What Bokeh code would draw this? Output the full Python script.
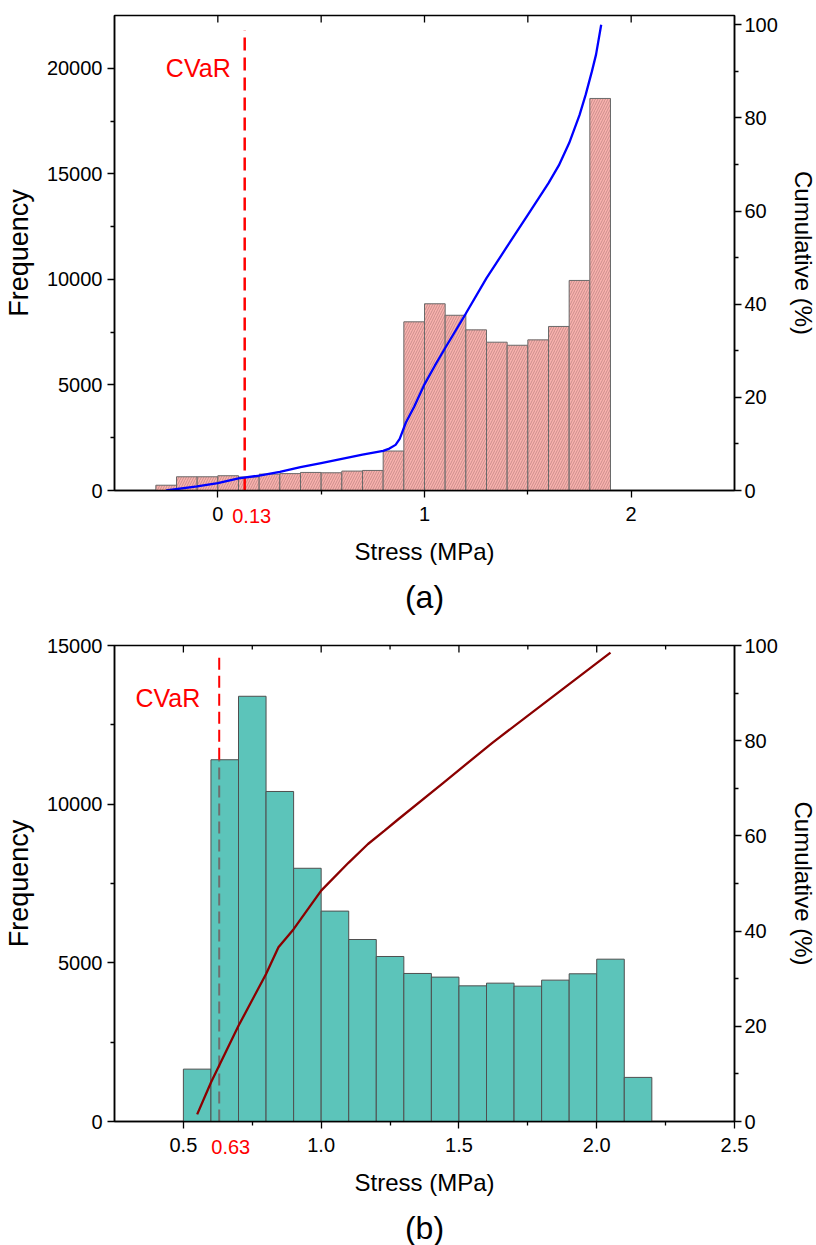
import math
from bokeh.plotting import figure
from bokeh.models import (Range1d, LinearAxis, FixedTicker, Label, PrintfTickFormatter,
                          CustomJSTickFormatter)
from bokeh.layouts import column
from bokeh.embed import file_html
from bokeh.resources import INLINE

FONT = "Liberation Sans"

# ---------------- data: panel (a) ----------------
A_BIN_CENTERS = [-0.25, -0.15, -0.05, 0.05, 0.15, 0.25, 0.35, 0.45, 0.55, 0.65, 0.75,
                 0.85, 0.95, 1.05, 1.15, 1.25, 1.35, 1.45, 1.55, 1.65, 1.75, 1.85]
A_BIN_WIDTH = 0.1
A_FREQ = [250, 650, 650, 700, 640, 775, 800, 855, 840, 920, 950,
          1870, 7990, 8845, 8300, 7610, 7025, 6880, 7135, 7770, 9950, 18570]
A_CUM_X = [-0.25, -0.1, 0.0, 0.1, 0.2, 0.3, 0.4, 0.5, 0.6, 0.7, 0.8, 0.83, 0.86, 0.88,
           0.91, 0.95, 1.0, 1.05, 1.1, 1.2, 1.3, 1.4, 1.5, 1.6, 1.65, 1.7, 1.75,
           1.78, 1.81, 1.83, 1.855]
A_CUM_Y = [0, 0.9, 1.6, 2.6, 3.2, 4.0, 5.0, 5.9, 6.8, 7.7, 8.5, 9.0, 9.8, 11.1,
           14.6, 18.0, 22.8, 26.8, 30.6, 38.0, 45.6, 52.4, 59.2, 66.0, 69.8, 74.6, 80.6,
           85.0, 90.0, 93.6, 100]
A_CVAR = 0.13
A_CVAR_LABEL = "0.13"
A_CVAR_TOP = 21800
A_CVAR_TEXT_Y = 20000
A_X_TICKS = [0, 1, 2]
A_X_MINOR = [0.5, 1.5]
A_TOP_TICKS = [0, 0.5, 1, 1.5, 2]
A_TOP_MINOR = []
A_Y_TICKS = [0, 5000, 10000, 15000, 20000]
A_Y_MINOR = [2500, 7500, 12500, 17500]
A_XRANGE = (-0.5, 2.5)
A_YRANGE = (0, 22500)
A_CUM_RANGE = (0, 102)

# ---------------- data: panel (b) ----------------
B_BIN_CENTERS = [0.55, 0.65, 0.75, 0.85, 0.95, 1.05, 1.15, 1.25, 1.35, 1.45,
                 1.55, 1.65, 1.75, 1.85, 1.95, 2.05, 2.15]
B_BIN_WIDTH = 0.1
B_FREQ = [1650, 11400, 13400, 10400, 7980, 6630, 5735, 5200, 4665, 4550,
          4275, 4360, 4265, 4455, 4655, 5115, 1390]
B_CUM_X = [0.55, 0.6, 0.7, 0.8, 0.845, 0.9, 1.0, 1.1, 1.17, 1.23, 1.28, 1.44, 1.62, 1.83, 2.05]
B_CUM_Y = [1.5, 8.2, 20.1, 31.0, 36.6, 40.4, 48.5, 54.4, 58.3, 61.1, 63.5, 71.0, 79.5, 88.8, 98.5]
B_CVAR = 0.63
B_CVAR_LABEL = "0.63"
B_CVAR_BIN = 1
B_CVAR_TOP = 14790
B_CVAR_TEXT_Y = 13350
B_X_TICKS = [0.5, 1.0, 1.5, 2.0, 2.5]
B_X_MINOR = [0.75, 1.25, 1.75, 2.25]
B_TOP_TICKS = [0.5, 1.0, 1.5, 2.0]
B_TOP_MINOR = [0.75, 1.25, 1.75, 2.25]
B_Y_TICKS = [0, 5000, 10000, 15000]
B_Y_MINOR = [2500, 7500, 12500]
B_XRANGE = (0.25, 2.5)
B_YRANGE = (0, 15000)
B_CUM_RANGE = (0, 100)

CUM_TICKS = [0, 20, 40, 60, 80, 100]
CUM_MINOR = [10, 30, 50, 70, 90]

# ---------------- styling ----------------
TICK_FS = "20px"
XLABEL_FS = "24px"
FREQ_FS = "27px"
CUM_FS = "24px"
CAP_FS = "32px"
CVAR_FS = "25px"
A_LABEL_SHIFT = 0.034   # red value label nudged right of the line (as in the original)
B_LABEL_SHIFT = 0.042

LEFT, RIGHT, FRAME_W = 112, 84, 620


def style_axis(ax):
    ax.axis_line_color = "black"
    ax.axis_line_width = 1.5
    ax.major_tick_line_color = "black"
    ax.minor_tick_line_color = "black"
    ax.major_tick_line_width = 1.3
    ax.minor_tick_line_width = 1.3
    ax.major_tick_out = 7
    ax.major_tick_in = 0
    ax.minor_tick_out = 4
    ax.minor_tick_in = 0
    ax.major_label_text_font = FONT
    ax.major_label_text_font_size = TICK_FS
    ax.major_label_text_color = "black"
    ax.axis_label_text_font = FONT
    ax.axis_label_text_font_style = "normal"
    ax.axis_label_text_color = "black"


def make_panel(xr, yr, cr, frame_h, top, bottom, caption, cap_standoff):
    p = figure(frame_width=FRAME_W, frame_height=frame_h,
               min_border_left=LEFT, min_border_right=RIGHT,
               min_border_top=top, min_border_bottom=bottom,
               x_range=Range1d(*xr), y_range=Range1d(*yr),
               output_backend="svg", toolbar_location=None,
               title_location="below")
    p.extra_y_ranges = {"cum": Range1d(*cr)}
    p.xgrid.visible = False
    p.ygrid.visible = False
    p.outline_line_color = "black"
    p.outline_line_width = 1.5
    p.background_fill_color = "white"
    p.border_fill_color = "white"
    p.title.text = caption
    p.title.align = "center"
    p.title.text_font = FONT
    p.title.text_font_size = CAP_FS
    p.title.text_font_style = "normal"
    p.title.text_color = "black"
    p.title.standoff = cap_standoff
    return p


def setup_axes(p, yr, xt, xm, topt, topm, yt, ym, fmt, cvar, cvar_label, shift):
    xa = p.xaxis[0]
    xa.ticker = FixedTicker(ticks=xt, minor_ticks=xm)
    style_axis(xa)
    xa.major_label_standoff = 9
    if fmt is not None:
        xa.formatter = fmt

    # second (label-only) axis carrying the red CVaR value and the axis title
    xa2 = LinearAxis(ticker=FixedTicker(ticks=[cvar + shift], minor_ticks=[]),
                     formatter=CustomJSTickFormatter(code="return '%s';" % cvar_label))
    style_axis(xa2)
    xa2.axis_line_color = None
    xa2.major_tick_line_color = None
    xa2.minor_tick_line_color = None
    xa2.major_tick_out = 0
    xa2.minor_tick_out = 0
    xa2.major_label_text_color = "red"
    xa2.major_label_standoff = -15
    xa2.axis_label = "Stress (MPa)"
    xa2.axis_label_text_font_size = XLABEL_FS
    xa2.axis_label_standoff = 12
    p.add_layout(xa2, "below")

    ya = p.yaxis[0]
    ya.ticker = FixedTicker(ticks=yt, minor_ticks=ym)
    ya.axis_label = "Frequency"
    style_axis(ya)
    ya.axis_label_text_font_size = FREQ_FS
    ya.major_label_standoff = 5
    ya.axis_label_standoff = 10

    ra = LinearAxis(y_range_name="cum", axis_label="Cumulative (%)",
                    ticker=FixedTicker(ticks=CUM_TICKS, minor_ticks=CUM_MINOR))
    style_axis(ra)
    ra.axis_label_text_font_size = CUM_FS
    ra.major_label_standoff = 3
    ra.axis_label_standoff = 9
    p.add_layout(ra, "right")

    # inward tick marks on the top edge of the frame (half of each dash is clipped)
    ytop = yr[1]
    p.scatter(x=topt, y=[ytop] * len(topt), marker="dash", angle=math.pi / 2,
              size=14, line_color="black", line_width=1.3)
    if topm:
        p.scatter(x=topm, y=[ytop] * len(topm), marker="dash", angle=math.pi / 2,
                  size=8, line_color="black", line_width=1.3)


# ---------------- panel (a) ----------------
pa = make_panel(A_XRANGE, A_YRANGE, A_CUM_RANGE, 475, 15, 135, "(a)", 18)
setup_axes(pa, A_YRANGE, A_X_TICKS, A_X_MINOR, A_TOP_TICKS, A_TOP_MINOR,
           A_Y_TICKS, A_Y_MINOR, None, A_CVAR, A_CVAR_LABEL, A_LABEL_SHIFT)

pa.vbar(x=A_BIN_CENTERS, width=A_BIN_WIDTH, top=A_FREQ, bottom=0,
        fill_color="#F9B2AE", line_color="#6a6a6a", line_width=1,
        hatch_pattern="/", hatch_color="#8a5c5c", hatch_alpha=0.6,
        hatch_scale=5, hatch_weight=0.7)
pa.line([A_CVAR, A_CVAR], [0, A_CVAR_TOP], line_color="red", line_width=2.5,
        line_dash="13 7")
pa.line(A_CUM_X, A_CUM_Y, y_range_name="cum", line_color="#0000FF", line_width=2.3)

pa.add_layout(Label(x=A_CVAR, y=A_CVAR_TEXT_Y, x_offset=-14, text="CVaR", text_color="red",
                    text_font=FONT, text_font_size=CVAR_FS, text_align="right",
                    text_baseline="middle"))

# ---------------- panel (b) ----------------
pb = make_panel(B_XRANGE, B_YRANGE, B_CUM_RANGE, 476, 20, 124, "(b)", 18)
setup_axes(pb, B_YRANGE, B_X_TICKS, B_X_MINOR, B_TOP_TICKS, B_TOP_MINOR,
           B_Y_TICKS, B_Y_MINOR, PrintfTickFormatter(format="%.1f"),
           B_CVAR, B_CVAR_LABEL, B_LABEL_SHIFT)

pb.vbar(x=B_BIN_CENTERS, width=B_BIN_WIDTH, top=B_FREQ, bottom=0,
        fill_color="#5CC4BA", line_color="#4f4f4f", line_width=1)
pb.line([B_CVAR, B_CVAR], [0, B_FREQ[B_CVAR_BIN]], line_color="#6e6e6e", line_width=2,
        line_dash="12 6")
pb.line([B_CVAR, B_CVAR], [B_FREQ[B_CVAR_BIN], B_CVAR_TOP], line_color="red", line_width=2,
        line_dash="12 6")
pb.line(B_CUM_X, B_CUM_Y, y_range_name="cum", line_color="#8B0000", line_width=2.3)

pb.add_layout(Label(x=B_CVAR, y=B_CVAR_TEXT_Y, x_offset=-19, text="CVaR", text_color="red",
                    text_font=FONT, text_font_size=CVAR_FS, text_align="right",
                    text_baseline="middle"))

layout = column(pa, pb, spacing=0)
open("out.html", "w").write(file_html(layout, INLINE))
